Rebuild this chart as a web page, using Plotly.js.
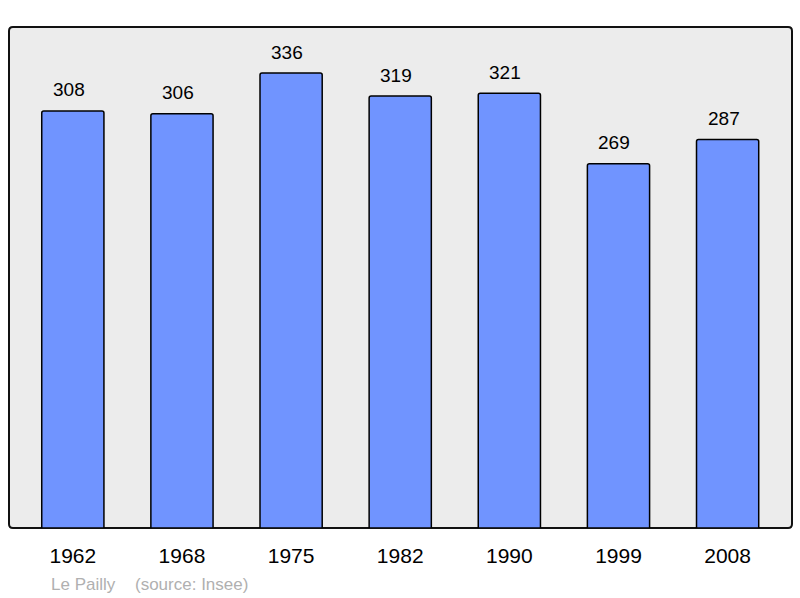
<!DOCTYPE html>
<html>
<head>
<meta charset="utf-8">
<script src="https://cdn.plot.ly/plotly-3.0.1.min.js"></script>
<style>html,body{margin:0;padding:0;background:#fff;}#chart{width:800px;height:598px;}</style>
</head>
<body>
<div id="chart"></div>
<script>
const years = ["1962", "1968", "1975", "1982", "1990", "1999", "2008"];
const population = [308, 306, 336, 319, 321, 269, 287];
const commune = "Le Pailly";
const source = "(source: Insee)";

const FONT = "Liberation Sans, Arial, sans-serif";

const labelAnnotations = years.map((y, i) => ({
  x: i, y: population[i], xref: "x", yref: "y",
  text: String(population[i]), showarrow: false,
  yanchor: "middle", yshift: 21, xshift: -4,
  font: {family: FONT, size: 19, color: "#000"}
}));

const trace = {
  type: "bar",
  x: years,
  y: population,
  width: 0.57,
  marker: {color: "#7094ff", line: {color: "#000", width: 1.5}, cornerradius: 2},
  hoverinfo: "none"
};

const layout = {
  width: 800, height: 598,
  margin: {l: 9, r: 8, t: 27, b: 70},
  paper_bgcolor: "#ffffff",
  plot_bgcolor: "rgba(0,0,0,0)",
  showlegend: false,
  xaxis: {
    type: "category",
    range: [-0.585, 6.59],
    showgrid: false, zeroline: false, showline: false,
    ticks: "", ticklabelstandoff: 13,
    tickfont: {family: FONT, size: 21, color: "#000"}
  },
  yaxis: {
    range: [0, 370],
    showgrid: false, zeroline: false, showline: false,
    showticklabels: false, ticks: ""
  },
  shapes: [{
    type: "path", xref: "paper", yref: "paper", layer: "below",
    path: "M 0.005,0 L 0.995,0 Q 1,0 1,0.008 L 1,0.992 Q 1,1 0.995,1 L 0.005,1 Q 0,1 0,0.992 L 0,0.008 Q 0,0 0.005,0 Z",
    fillcolor: "#ececec", line: {color: "#111", width: 2}
  }],
  annotations: labelAnnotations.concat([
    {
      xref: "paper", yref: "paper", x: 0.0505, y: -0.1128,
      xanchor: "left", yanchor: "middle", showarrow: false,
      text: commune,
      font: {family: FONT, size: 17, color: "#b0b0b0"}
    },
    {
      xref: "paper", yref: "paper", x: 0.1585, y: -0.1128,
      xanchor: "left", yanchor: "middle", showarrow: false,
      text: source,
      font: {family: FONT, size: 17, color: "#b0b0b0"}
    }
  ])
};

Plotly.newPlot("chart", [trace], layout, {displayModeBar: false, staticPlot: true});
</script>
</body>
</html>
